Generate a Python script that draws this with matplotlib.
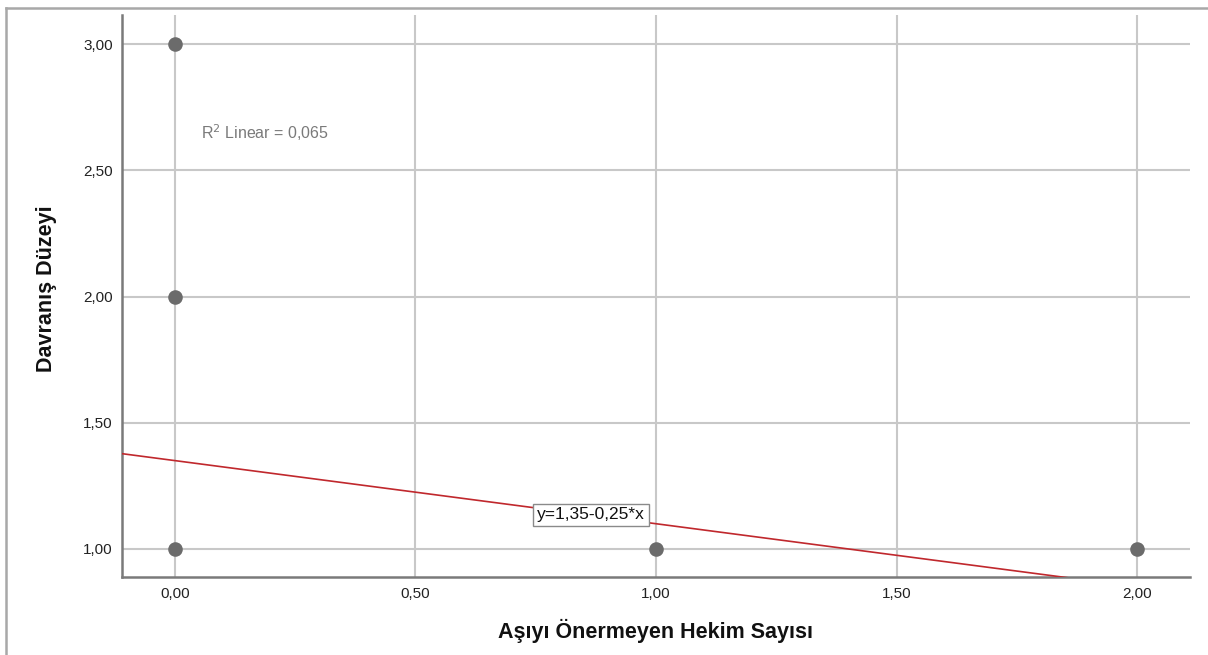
import matplotlib
matplotlib.use("Agg")
import matplotlib.pyplot as plt
from matplotlib.lines import Line2D
import numpy as np

plt.rcParams['font.family'] = ['Liberation Sans', 'DejaVu Sans']

# Observations
hekim_sayisi = [0, 0, 0, 1, 2]
davranis_duzeyi = [3, 2, 1, 1, 1]

# Fitted linear model
intercept = 1.35
slope = -0.25
r_squared = 0.065

x_ticks = [0.0, 0.5, 1.0, 1.5, 2.0]
y_ticks = [1.0, 1.5, 2.0, 2.5, 3.0]

def tr(v):
    return f"{v:.2f}".replace(".", ",")

W, H = 1208, 655
fig = plt.figure(figsize=(W / 100, H / 100), dpi=100)
ax = fig.add_axes([122 / W, 1 - 577 / H, (1190 - 122) / W, (577 - 15) / H])

xlim = (-0.11, 2.11)
ylim = (0.889, 3.115)
ax.set_xlim(*xlim)
ax.set_ylim(*ylim)

grid_color = "#c8c8c8"
ax.set_xticks(x_ticks)
ax.set_yticks(y_ticks)
ax.set_xticklabels([tr(v) for v in x_ticks])
ax.set_yticklabels([tr(v) for v in y_ticks])
ax.grid(True, color=grid_color, linewidth=1.5)
ax.set_axisbelow(True)
ax.tick_params(length=0, labelsize=11, colors="#222222")
ax.tick_params(axis="y", pad=6.5)
ax.tick_params(axis="x", pad=7)

for side in ("top", "right"):
    ax.spines[side].set_visible(False)
for side in ("left", "bottom"):
    ax.spines[side].set_color("#7a7a7a")
    ax.spines[side].set_linewidth(1.8)

# Regression line across the full x range
xs = np.array(xlim)
ax.plot(xs, intercept + slope * xs, color="#c0282d", linewidth=1.2, zorder=3)

# Data points
ax.plot(hekim_sayisi, davranis_duzeyi, linestyle="none", marker="o",
        markersize=10.5, color="#6b6b6b", markeredgewidth=0, zorder=4)

ax.text(0.054, 2.648, r"R$^2$ Linear = " + f"{r_squared:.3f}".replace(".", ","),
        fontsize=11.5, color="#7a7a7a", ha="left", va="center")

eq = f"y={intercept:.2f}".replace(".", ",") + f"-{abs(slope):.2f}".replace(".", ",") + "*x"
ax.text(0.865, 1.135, eq, fontsize=12.5, color="#111111", ha="center", va="center",
        bbox=dict(boxstyle="square,pad=0.22", facecolor="white",
                  edgecolor="#8a8a8a", linewidth=1.0), zorder=5)

ax.set_xlabel("Aşıyı Önermeyen Hekim Sayısı", fontsize=15.5, fontweight="bold",
              color="#111111", labelpad=13)
ax.set_ylabel("Davranış Düzeyi", fontsize=15.5, fontweight="bold",
              color="#111111")
ax.yaxis.set_label_coords(-0.0605, 0.513)

# Outer frame
fig.add_artist(Line2D([6 / W, 6 / W], [0, 1 - 8 / H], transform=fig.transFigure,
                      color="#a8a8a8", linewidth=1.8))
fig.add_artist(Line2D([6 / W, 1], [1 - 8 / H, 1 - 8 / H], transform=fig.transFigure,
                      color="#a8a8a8", linewidth=1.8))

fig.savefig("out.png", dpi=100)
